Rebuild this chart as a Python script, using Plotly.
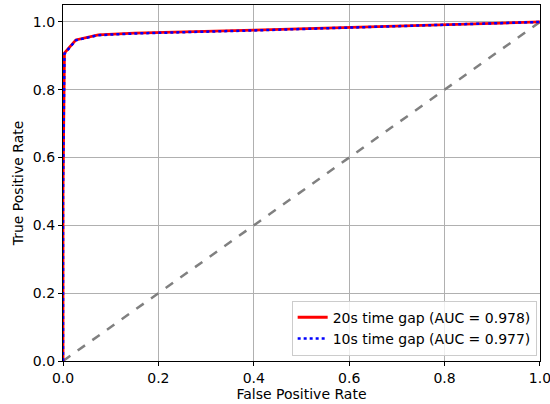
import plotly.graph_objects as go

fpr_20 = [0.0, 0.0, 0.003, 0.027, 0.074, 0.15, 0.40, 0.70, 1.0]
tpr_20 = [0.0, 0.5, 0.908, 0.947, 0.962, 0.967, 0.976, 0.988, 1.0]
fpr_10 = [0.0, 0.0, 0.003, 0.027, 0.074, 0.15, 0.40, 0.70, 1.0]
tpr_10 = [0.0, 0.5, 0.906, 0.946, 0.961, 0.966, 0.975, 0.987, 1.0]
diag = [0.0, 1.0]
label_20 = "20s time gap (AUC = 0.978)"
label_10 = "10s time gap (AUC = 0.977)"
ticks = [0.0, 0.2, 0.4, 0.6, 0.8, 1.0]
tick_text = ["0.0", "0.2", "0.4", "0.6", "0.8", "1.0"]

fig = go.Figure()
fig.add_trace(go.Scatter(x=diag, y=diag, mode="lines", showlegend=False,
                         line=dict(color="#808080", width=2.5, dash="dash")))
fig.add_trace(go.Scatter(x=fpr_20, y=tpr_20, mode="lines", name=label_20,
                         line=dict(color="red", width=2.8)))
fig.add_trace(go.Scatter(x=fpr_10, y=tpr_10, mode="lines", name=label_10,
                         line=dict(color="blue", width=2.5, dash="dot")))

axis_common = dict(
    showline=True, linecolor="black", linewidth=1.2, mirror=True,
    showgrid=True, gridcolor="#b0b0b0", gridwidth=1,
    ticks="outside", ticklen=4, tickcolor="black",
    tickvals=ticks, ticktext=tick_text, zeroline=False,
    ticklabeloverflow="allow", automargin=False,
    tickfont=dict(family="DejaVu Sans", size=14, color="black"),
)

fig.update_layout(
    width=550, height=404,
    margin=dict(l=63, r=10, t=5, b=43),
    paper_bgcolor="white", plot_bgcolor="white",
    font=dict(family="DejaVu Sans", size=14, color="black"),
    xaxis=dict(range=[0, 1.0001], title=dict(text="False Positive Rate", standoff=3,
               font=dict(size=14)), **axis_common),
    yaxis=dict(range=[0, 1.05], title=dict(text="True Positive Rate", standoff=5,
               font=dict(size=14)), **axis_common),
    legend=dict(x=0.993, y=0.015, xanchor="right", yanchor="bottom",
                bgcolor="rgba(255,255,255,0.8)", bordercolor="#cccccc", borderwidth=1,
                font=dict(size=14), tracegroupgap=0),
)

fig.write_html("out.html")
